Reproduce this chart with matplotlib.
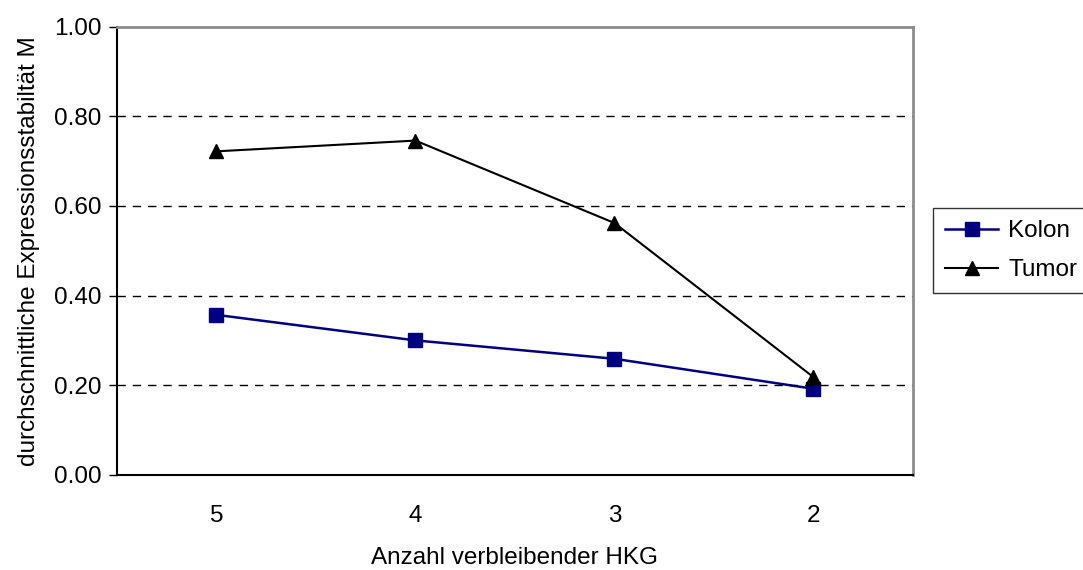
import numpy as np
import matplotlib.pyplot as plt

plt.rcParams['font.family'] = ['Liberation Sans', 'DejaVu Sans']

# Data
hkg_labels = ['5', '4', '3', '2']
kolon = [0.357, 0.300, 0.259, 0.192]
tumor = [0.722, 0.746, 0.562, 0.218]

fig = plt.figure(figsize=(10.83, 5.70), dpi=100)
ax = fig.add_axes([0.108, 0.167, 0.735, 0.786])

x = np.arange(len(hkg_labels))
ax.plot(x, kolon, color='#000080', marker='s', markersize=9.5, linewidth=1.8,
        label='Kolon')
ax.plot(x, tumor, color='black', marker='^', markersize=10.5, linewidth=1.5,
        label='Tumor')

ax.set_xlim(-0.5, 3.5)
ax.set_ylim(0, 1.0)
ax.set_xticks(x)
ax.set_xticklabels(hkg_labels)
ax.set_yticks(np.arange(0, 1.01, 0.2))
ax.set_yticklabels([f'{v:.2f}' for v in np.arange(0, 1.01, 0.2)])
ax.tick_params(axis='x', length=0, pad=22, labelsize=17.5)
ax.tick_params(axis='y', length=6, width=1, direction='out', labelsize=17.5, pad=5)

for v in [0.2, 0.4, 0.6, 0.8]:
    ax.axhline(v, color='black', linestyle=(0, (6, 5)), linewidth=1)

ax.spines['left'].set_color('black')
ax.spines['bottom'].set_color('black')
ax.spines['left'].set_linewidth(1.5)
ax.spines['bottom'].set_linewidth(1.5)
ax.spines['top'].set_color('#8c8c8c')
ax.spines['right'].set_color('#8c8c8c')
ax.spines['top'].set_linewidth(2)
ax.spines['right'].set_linewidth(2)

ax.set_xlabel('Anzahl verbleibender HKG', fontsize=17.5, labelpad=14)
ax.set_ylabel('durchschnittliche Expressionsstabiltät M', fontsize=17.5, labelpad=10)

leg = ax.legend(loc='center left', bbox_to_anchor=(1.025, 0.5), fontsize=17.5,
                frameon=True, fancybox=False, edgecolor='black',
                handlelength=2.2, handletextpad=0.4, borderpad=0.5,
                labelspacing=0.7, borderaxespad=0)
leg.get_frame().set_linewidth(1)

fig.savefig('out.png', dpi=100)
